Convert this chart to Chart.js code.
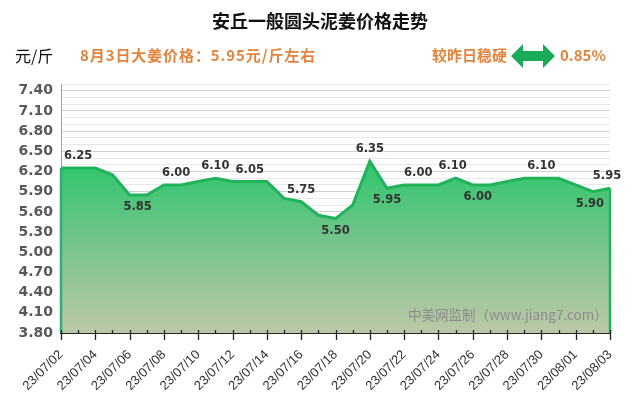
<!DOCTYPE html>
<html>
<head>
<meta charset="utf-8">
<script src="https://cdn.jsdelivr.net/npm/chart.js@4"></script>
<style>
  body { margin: 0; background: #fff; }
  #wrap { position: relative; width: 640px; height: 410px; }
  #title { position: absolute; left: 0; width: 640px; top: 7px; text-align: center; font-family: "Noto Sans CJK SC", sans-serif; font-size: 18px; font-weight: bold; color: #111; line-height: 26px; }
  .hd { position: absolute; top: 44px; font-family: "Noto Sans CJK SC", sans-serif; font-size: 15px; font-weight: bold; color: #e4843c; line-height: 22px; white-space: nowrap; }
  #wm { position: absolute; left: 408px; top: 304px; font-family: "Noto Sans CJK SC", sans-serif; font-size: 13.5px; color: #8c8c8c; white-space: nowrap; }
</style>
</head>
<body>
<div id="wrap">
  <canvas id="c"></canvas>
  <div id="title">安丘一般圆头泥姜价格走势</div>
  <div class="hd" style="left:15px;color:#111;font-weight:normal;font-size:16px;">元/斤</div>
  <div class="hd" style="left:80px;letter-spacing:0.9px;">8月3日大姜价格：5.95元/斤左右</div>
  <div class="hd" style="left:432px;">较昨日稳硬</div>
  <svg style="position:absolute;left:511px;top:44px" width="44" height="24" viewBox="0 0 44 24">
    <polygon points="0,12 12,0 12,7 32,7 32,0 44,12 32,24 32,17 12,17 12,24" fill="#1aab56"/>
  </svg>
  <div class="hd" style="left:560px;">0.85%</div>
  <div id="wm">中美网监制（www.jiang7.com）</div>
</div>
<script>
// 日期
var dates = ['23/07/02','23/07/03','23/07/04','23/07/05','23/07/06','23/07/07','23/07/08','23/07/09',
  '23/07/10','23/07/11','23/07/12','23/07/13','23/07/14','23/07/15','23/07/16','23/07/17','23/07/18',
  '23/07/19','23/07/20','23/07/21','23/07/22','23/07/23','23/07/24','23/07/25','23/07/26','23/07/27',
  '23/07/28','23/07/29','23/07/30','23/07/31','23/08/01','23/08/02','23/08/03'];
// 价格
var prices = [6.25,6.25,6.25,6.15,5.85,5.85,6.00,6.00,6.05,6.10,6.05,6.05,6.05,5.80,5.75,5.55,5.50,
  5.70,6.35,5.95,6.00,6.00,6.00,6.10,6.00,6.00,6.05,6.10,6.10,6.10,6.00,5.90,5.95];
// 显示数值的点
var labelIdx = [1,4,7,9,11,14,16,18,19,21,23,24,28,31,32];
var labelBelow = [4,16,19,24,31];
var labelShift = {4: 8, 7: -5, 21: -3, 23: -3, 24: 5, 31: -3, 32: -3};
// y轴
var yMin = 3.8, yMax = 7.5, yStep = 0.1;

var extras = {
  id: 'extras',
  afterDatasetsDraw: function(chart) {
    var ctx = chart.ctx, xs = chart.scales.x, ys = chart.scales.y;
    var bottom = chart.chartArea.bottom;
    ctx.save();
    // 面积左右边
    ctx.lineWidth = 2.5;
    ctx.strokeStyle = '#2fae7c';
    ctx.beginPath();
    ctx.moveTo(xs.getPixelForValue(0), ys.getPixelForValue(prices[0]));
    ctx.lineTo(xs.getPixelForValue(0), bottom);
    ctx.stroke();
    ctx.strokeStyle = '#20b35a';
    var last = prices.length - 1;
    ctx.beginPath();
    ctx.moveTo(xs.getPixelForValue(last), ys.getPixelForValue(prices[last]));
    ctx.lineTo(xs.getPixelForValue(last), bottom);
    ctx.stroke();
    // x轴刻度
    ctx.strokeStyle = '#222';
    ctx.lineWidth = 1.3;
    for (var i = 0; i < dates.length; i++) {
      var px = Math.round(xs.getPixelForValue(i)) + 0.5;
      ctx.beginPath();
      ctx.moveTo(px, bottom - 3);
      ctx.lineTo(px, i % 2 === 0 ? bottom + 7 : bottom);
      ctx.stroke();
    }
    // 数值
    ctx.font = 'bold 11.5px "DejaVu Sans"';
    ctx.fillStyle = '#333';
    ctx.textAlign = 'center';
    ctx.textBaseline = 'middle';
    labelIdx.forEach(function(i) {
      var px = xs.getPixelForValue(i) + (labelShift[i] || 0);
      var py = ys.getPixelForValue(prices[i]);
      py += labelBelow.indexOf(i) >= 0 ? 12 : -12;
      ctx.fillText(prices[i].toFixed(2), px, py);
    });
    ctx.restore();
  }
};

new Chart(document.getElementById('c'), {
  type: 'line',
  data: {
    labels: dates,
    datasets: [{
      data: prices,
      fill: 'start',
      borderColor: '#20b35a',
      borderWidth: 3,
      pointRadius: 0,
      tension: 0,
      backgroundColor: function(context) {
        var ca = context.chart.chartArea;
        if (!ca) return '#5cc27f';
        var g = context.chart.ctx.createLinearGradient(0, 160, 0, ca.bottom);
        g.addColorStop(0, '#2cc66a');
        g.addColorStop(0.5, '#78c48e');
        g.addColorStop(1, '#bcc8a7');
        return g;
      }
    }]
  },
  options: {
    responsive: true,
    maintainAspectRatio: false,
    animation: false,
    layout: { padding: { top: 84, right: 30, left: 0, bottom: 0 } },
    plugins: {
      legend: { display: false },
      tooltip: { enabled: false },
      title: { display: false }
    },
    scales: {
      x: {
        afterFit: function(s) { s.height = 77; },
        border: { color: '#222', width: 2 },
        grid: { display: false },
        ticks: {
          autoSkip: false,
          maxRotation: 45,
          minRotation: 45,
          padding: 6,
          color: '#333',
          font: { family: '"Liberation Sans"', size: 13 },
          callback: function(v, i) { return i % 2 === 0 ? dates[i] : ''; }
        }
      },
      y: {
        min: yMin,
        max: yMax,
        afterFit: function(s) { s.width = 61; },
        border: { color: '#8fa8bd', width: 1 },
        grid: {
          color: function(c) {
            var k = Math.round((c.tick.value - yMin) * 10);
            return k % 3 === 0 ? '#d2d2d2' : '#e8e8e8';
          },
          drawTicks: false
        },
        ticks: {
          stepSize: yStep,
          autoSkip: false,
          padding: 8,
          color: '#595959',
          font: { family: '"DejaVu Sans"', size: 14, weight: 'bold' },
          callback: function(v) {
            var k = Math.round((v - yMin) * 10);
            return (k % 3 === 0 && v < 7.45) ? v.toFixed(2) : '';
          }
        }
      }
    }
  },
  plugins: [extras]
});
</script>
</body>
</html>
